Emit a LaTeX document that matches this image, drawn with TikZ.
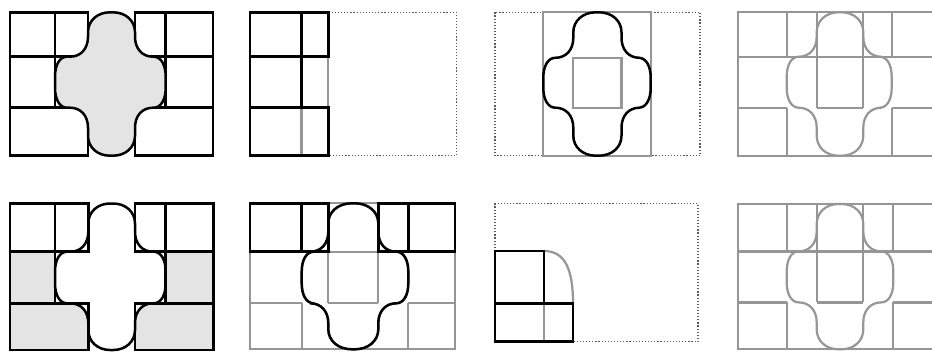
\documentclass[tikz,border=0pt]{standalone}
\definecolor{lgray}{RGB}{150,150,150}
\definecolor{fillg}{RGB}{228,228,228}
\definecolor{dotg}{RGB}{90,90,90}
% panel geometry: width, height, bar left, arm left, arm right, bar right, row 1, row 2
\newcommand\setp[8]{\def\PW{#1}\def\PH{#2}\def\PL{#3}\def\PA{#4}\def\PB{#5}\def\PR{#6}\def\PT{#7}\def\PU{#8}}
\newcommand\xcross[1]{%
 \pgfmathsetmacro\CW{(\PB-\PA)/2-1.5}%
 \pgfmathsetmacro\CK{0.42*\CW}%
 \path[#1] (\PA,20) .. controls (\PA,8.5) and ({\PA+\CK},0) .. ({\PA+\CW},0)
 -- ({\PB-\CW},0) .. controls ({\PB-\CK},0) and (\PB,8.5) .. (\PB,20)
 -- (\PB,{\PT-20}) .. controls (\PB,{\PT-8}) and ({\PB+7.2},\PT) .. ({\PB+18},\PT)
 -- ({\PR-12},\PT) .. controls ({\PR-4.8},\PT) and (\PR,{\PT+8}) .. (\PR,{\PT+20})
 -- (\PR,{\PU-20}) .. controls (\PR,{\PU-8}) and ({\PR-4.8},\PU) .. ({\PR-12},\PU)
 -- ({\PB+18},\PU) .. controls ({\PB+7.2},\PU) and (\PB,{\PU+8}) .. (\PB,{\PU+20})
 -- (\PB,{\PH-20}) .. controls (\PB,{\PH-8.5}) and ({\PB-\CK},\PH) .. ({\PB-\CW},\PH)
 -- ({\PA+\CW},\PH) .. controls ({\PA+\CK},\PH) and (\PA,{\PH-8.5}) .. (\PA,{\PH-20})
 -- (\PA,{\PU+20}) .. controls (\PA,{\PU+8}) and ({\PA-7.2},\PU) .. ({\PA-18},\PU)
 -- ({\PL+12},\PU) .. controls ({\PL+4.8},\PU) and (\PL,{\PU-8}) .. (\PL,{\PU-20})
 -- (\PL,{\PT+20}) .. controls (\PL,{\PT+8}) and ({\PL+4.8},\PT) .. ({\PL+12},\PT)
 -- ({\PA-18},\PT) .. controls ({\PA-7.2},\PT) and (\PA,{\PT-8}) .. (\PA,{\PT-20})
 -- cycle;}
\newcommand\graygrid{%
 \draw[gry] (0,0) rectangle (\PW,\PH);
 \draw[gry] (0,\PT) -- (\PW,\PT);
 \draw[gry] (0,\PU) -- (\PL,\PU) (\PA,\PU) -- (\PB,\PU) (\PR,\PU) -- (\PW,\PU);
 \draw[gry] (\PL,0) -- (\PL,\PT) (\PL,\PU) -- (\PL,\PH);
 \draw[gry] (\PA,0) -- (\PA,\PU) (\PB,0) -- (\PB,\PU);
 \draw[gry] (\PR,0) -- (\PR,\PT) (\PR,\PU) -- (\PR,\PH);
 \xcross{gry}}
\newcommand\cellsA[1]{%
 \path[#1] (0,0) rectangle (\PL,\PT);
 \path[#1] (\PL,0) rectangle (\PA,\PT);
 \path[#1] (\PB,0) rectangle (\PR,\PT);
 \path[#1] (\PR,0) rectangle (\PW,\PT);}
\newcommand\cellsB[1]{%
 \path[#1] (0,\PT) rectangle (\PL,\PU);
 \path[#1] (\PR,\PT) rectangle (\PW,\PU);
 \path[#1] (0,\PU) rectangle (\PA,\PH);
 \path[#1] (\PB,\PU) rectangle (\PW,\PH);}
\begin{document}
\begin{tikzpicture}[x=1pt,y=-1pt,
  blk/.style={draw=black,line width=2.5pt,line join=miter},
  gry/.style={draw=lgray,line width=2.2pt},
  frm/.style={draw=dotg,line width=1.3pt,dash pattern=on 1.2pt off 1.9pt}]
\useasboundingbox (0,0) rectangle (932,351);
\clip (0,0) rectangle (932,351);
\fill[white] (0,0) rectangle (932,351);
% panel 1
\begin{scope}[shift={(10,12.3)}]
 \setp{203}{143.4}{45}{78}{125}{155.7}{44.4}{95.4}
 \cellsA{blk}\cellsB{blk}
 \xcross{blk,fill=fillg}
\end{scope}
% panel 2
\begin{scope}[shift={(250,12.3)}]
 \setp{206.5}{143.4}{51.5}{78.3}{128}{158}{44.4}{95.4}
 \draw[frm] (0,0) rectangle (\PW,\PH);
 \draw[gry] (\PA,\PT) -- (\PA,\PU) (\PL,\PU) -- (\PL,\PH);
 \draw[blk] (0,0) rectangle (\PL,\PT);
 \draw[blk] (\PL,0) rectangle (\PA,\PT);
 \draw[blk] (0,\PT) rectangle (\PL,\PU);
 \draw[blk] (0,\PU) rectangle (\PA,\PH);
\end{scope}
% panel 3
\begin{scope}[shift={(495,12.3)}]
 \setp{205}{143.4}{48.3}{78.3}{126.5}{155.7}{45.5}{95.4}
 \draw[frm] (0,0) rectangle (\PW,\PH);
 \draw[gry,fill=white] (\PL,0) rectangle (\PR,\PH);
 \draw[gry] (\PA,\PT) rectangle (\PB,\PU);
 \xcross{blk}
\end{scope}
% panel 4
\begin{scope}[shift={(738.3,12.3)}]
 \setp{203}{143.4}{48.4}{78.4}{125}{153.4}{44.4}{95.4}
 \graygrid
\end{scope}
% panel 5
\begin{scope}[shift={(10,203.5)}]
 \setp{203.3}{146.5}{45}{78.3}{125}{155.7}{48.2}{99.8}
 \cellsB{fill=fillg}
 \xcross{fill=white}
 \cellsA{blk}\cellsB{blk}
 \xcross{blk}
\end{scope}
% panel 6
\begin{scope}[shift={(250,203.3)}]
 \setp{205}{146}{51.7}{78.3}{128.3}{158.3}{48.4}{100}
 \graygrid
 \cellsA{blk}
 \xcross{blk}
\end{scope}
% panel 7
\begin{scope}[shift={(495,203.3)}]
 \draw[frm] (0,0) rectangle (203,138.4);
 \draw[gry] (49,100) -- (49,138.4);
 \draw[gry] (49,47.7) .. controls (70,47.7) and (78,66) .. (78,100);
 \draw[blk] (0,47.7) rectangle (49,100);
 \draw[blk] (0,100) rectangle (78,138.4);
\end{scope}
% panel 8
\begin{scope}[shift={(738.3,204)}]
 \setp{203}{145.3}{48.4}{78.4}{125}{155}{47.4}{98.4}
 \graygrid
\end{scope}
\end{tikzpicture}
\end{document}
